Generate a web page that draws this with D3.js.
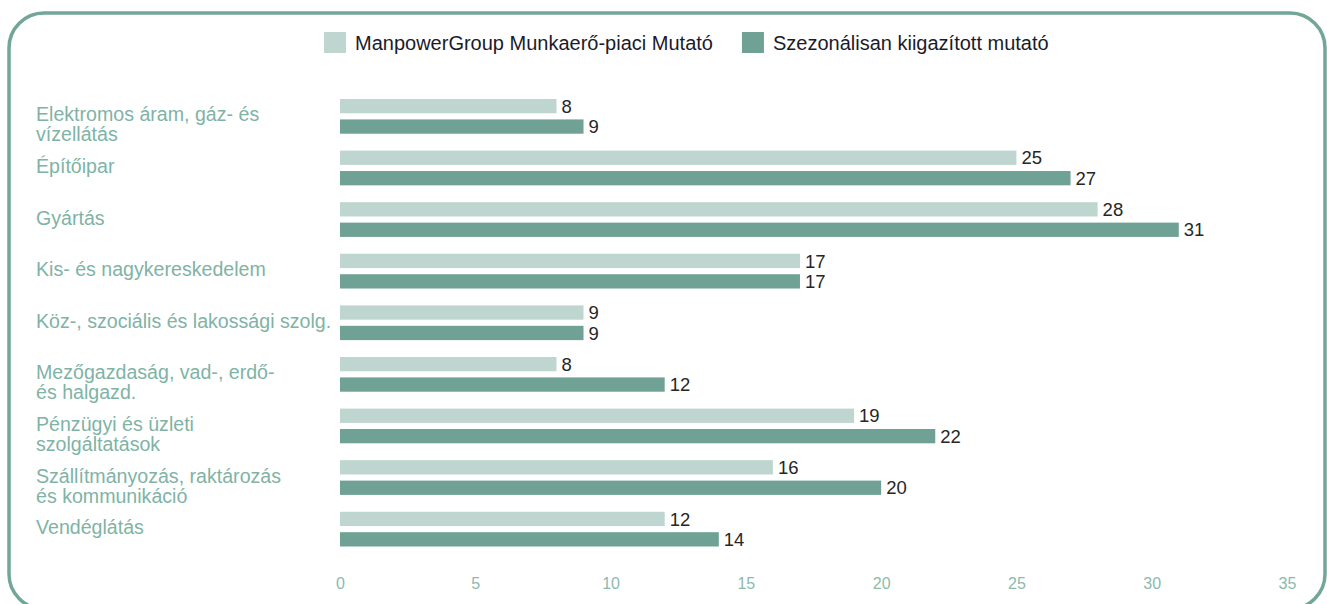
<!DOCTYPE html>
<html>
<head>
<meta charset="utf-8">
<script src="https://cdn.jsdelivr.net/npm/d3@7"></script>
<style>
  body { margin: 0; background: #fff; }
  svg { display: block; font-family: "Liberation Sans", Arial, Helvetica, sans-serif; }
</style>
</head>
<body>
<div id="chart"></div>
<script>
// categories (line breaks as in the original)
var categories = [
  ["Elektromos áram, gáz- és", "vízellátás"],
  ["Építőipar"],
  ["Gyártás"],
  ["Kis- és nagykereskedelem"],
  ["Köz-, szociális és lakossági szolg."],
  ["Mezőgazdaság, vad-, erdő-", "és halgazd."],
  ["Pénzügyi és üzleti", "szolgáltatások"],
  ["Szállítmányozás, raktározás", "és kommunikáció"],
  ["Vendéglátás"]
];
var seriesNames = ["ManpowerGroup Munkaerő-piaci Mutató", "Szezonálisan kiigazított mutató"];
var mutato = [8, 25, 28, 17, 9, 8, 19, 16, 12];
var kiigazitott = [9, 27, 31, 17, 9, 12, 22, 20, 14];
var xTicks = [0, 5, 10, 15, 20, 25, 30, 35];

var colors = ["#bed6cf", "#6fa294"];
var W = 1327, H = 604;

var svg = d3.select("#chart").append("svg")
    .attr("width", W)
    .attr("height", H);

// rounded frame
svg.append("rect")
    .attr("x", 9).attr("y", 13)
    .attr("width", 1316).attr("height", 596)
    .attr("rx", 35).attr("ry", 35)
    .attr("fill", "none")
    .attr("stroke", "#72a698")
    .attr("stroke-width", 3.5);

var keys = categories.map(function(c) { return c.join(" "); });

var x = d3.scaleLinear().domain([0, 35]).range([340, 1287]);
var y = d3.scaleBand().domain(keys).range([99, 546.5]).paddingInner(0.327).paddingOuter(0);
var ySub = d3.scaleBand().domain([0, 1]).range([0, y.bandwidth()]).paddingInner(0.3);

var rows = keys.map(function(k, i) {
    return { key: k, lines: categories[i], vals: [mutato[i], kiigazitott[i]] };
});

// bars
var g = svg.append("g").selectAll("g")
    .data(rows)
    .enter().append("g")
    .attr("transform", function(d) { return "translate(0," + y(d.key) + ")"; });

g.selectAll("rect")
    .data(function(d) { return d.vals; })
    .enter().append("rect")
    .attr("x", x(0))
    .attr("y", function(d, i) { return ySub(i); })
    .attr("width", function(d) { return x(d) - x(0); })
    .attr("height", ySub.bandwidth())
    .attr("fill", function(d, i) { return colors[i]; });

g.selectAll("text.val")
    .data(function(d) { return d.vals; })
    .enter().append("text")
    .attr("class", "val")
    .attr("x", function(d) { return x(d) + 5; })
    .attr("y", function(d, i) { return ySub(i) + ySub.bandwidth() / 2; })
    .attr("dy", "0.36em")
    .attr("font-size", 18.5)
    .attr("fill", "#262626")
    .text(function(d) { return d; });

// category labels
g.append("text")
    .attr("x", 36)
    .attr("y", y.bandwidth() / 2 + 5)
    .attr("font-size", 19.6)
    .attr("fill", "#80b3a5")
    .selectAll("tspan")
    .data(function(d) { return d.lines; })
    .enter().append("tspan")
    .attr("x", 36)
    .attr("dy", function(d, i) { return i === 0 ? 0 : 20; })
    .text(function(d) { return d; });

// x axis (labels only)
var axis = svg.append("g")
    .attr("transform", "translate(0,578)")
    .call(d3.axisBottom(x).tickValues(xTicks).tickSize(0).tickPadding(0));
axis.select(".domain").remove();
axis.selectAll("text")
    .attr("font-family", "Liberation Sans, Arial, sans-serif")
    .attr("font-size", 16)
    .attr("fill", "#8cbaad")
    .attr("dy", "0.71em");

// legend
var legend = svg.append("g");
var lx = 324;
seriesNames.forEach(function(name, i) {
    legend.append("rect")
        .attr("x", lx).attr("y", 32)
        .attr("width", 22).attr("height", 21)
        .attr("fill", colors[i]);
    var t = legend.append("text")
        .attr("x", lx + 31).attr("y", 43)
        .attr("dy", "0.36em")
        .attr("font-size", 20)
        .attr("fill", "#1b1b2b")
        .text(name);
    lx = lx + 31 + t.node().getComputedTextLength() + 29;
});
</script>
</body>
</html>
